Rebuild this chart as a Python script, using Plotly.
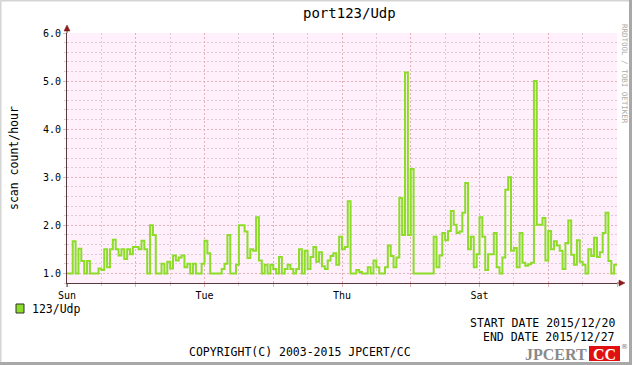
import plotly.graph_objects as go

# ---------------- data ----------------
title_text = "port123/Udp"
series_name = "123/Udp"
y_axis_title = "scan count/hour"
day_labels = ["Sun", "", "Tue", "", "Thu", "", "Sat", "", ""]
day_ticks_hours = [0, 24, 48, 72, 96, 120, 144, 168, 192]
y_tick_values = [1, 2, 3, 4, 5, 6]
y_tick_labels = ["1.0", "2.0", "3.0", "4.0", "5.0", "6.0"]

# hourly scan counts, 2015/12/20 00:00 .. 2015/12/27 23:00
counts_sun = [1.0, 1.0, 1.67, 1.0, 1.51, 1.26, 1.0, 1.26, 1.0, 1.0, 1.0, 1.1,
              1.07, 1.5, 1.13, 1.5, 1.7, 1.5, 1.37, 1.5, 1.3, 1.5, 1.4, 1.55]
counts_mon = [1.55, 1.5, 1.68, 1.5, 1.0, 2.0, 1.8, 1.0, 1.0, 1.2, 1.0, 1.24,
              1.1, 1.37, 1.27, 1.33, 1.37, 1.13, 1.2, 1.0, 1.2, 1.0, 1.0, 1.2]
counts_tue = [1.68, 1.42, 1.0, 1.0, 1.0, 1.0, 1.09, 1.2, 1.8, 1.0, 1.0, 1.18,
              2.0, 2.0, 1.87, 1.32, 1.5, 1.47, 2.17, 1.27, 1.0, 1.18, 1.0, 1.18]
counts_wed = [1.09, 1.0, 1.34, 1.0, 1.09, 1.18, 1.09, 1.0, 1.09, 1.5, 1.0, 1.47,
              1.09, 1.34, 1.55, 1.24, 1.44, 1.15, 1.09, 1.27, 1.36, 1.42, 1.18, 1.76]
counts_thu = [1.5, 1.55, 2.5, 1.0, 1.0, 1.07, 1.03, 1.0, 1.0, 1.13, 1.0, 1.27,
              1.13, 1.0, 1.0, 1.13, 1.58, 1.36, 1.13, 1.33, 2.57, 1.8, 5.18, 1.8]
counts_fri = [3.17, 1.0, 1.0, 1.0, 1.0, 1.0, 1.0, 1.0, 1.76, 1.13, 1.37, 1.84,
              1.69, 1.88, 2.3, 2.01, 1.84, 1.87, 2.26, 2.88, 1.5, 1.76, 1.13, 1.4]
counts_sat = [2.17, 1.76, 1.07, 1.4, 1.4, 1.84, 1.13, 1.0, 1.33, 2.74, 3.0, 1.47,
              1.53, 1.13, 1.84, 1.22, 1.16, 1.19, 1.22, 5.0, 2.01, 2.01, 2.15, 1.27]
counts_sun2 = [1.88, 1.5, 1.67, 1.58, 1.47, 1.09, 1.63, 2.1, 1.39, 1.18, 1.69, 1.24,
               1.18, 1.0, 1.5, 1.36, 1.74, 1.34, 1.44, 1.84, 2.26, 1.26, 1.0, 1.18]

counts = counts_sun + counts_mon + counts_tue + counts_wed + counts_thu + counts_fri + counts_sat + counts_sun2
hours = list(range(len(counts) + 1))
y_line = counts + [counts[-1]]

# ---------------- style ----------------
W, H = 632, 365
PL, PT, PW, PH = 67, 33, 550, 250
MONO = "DejaVu Sans Mono"
GREEN = "#8CDC28"
AXIS = "#5a3a3a"
ARROW = "#8B1A1A"
MAJ_GRID = "#E6B0B8"
MIN_GRID = "#DDCCD8"


def px(x):
    return (x - PL) / PW


def py(y):
    return (PT + PH - y) / PH


fig = go.Figure()
fig.add_trace(go.Scatter(x=hours, y=y_line, mode="lines", line=dict(color=GREEN, width=2, shape="hv"),
                         name=series_name, showlegend=False, hoverinfo="skip"))

fig.update_layout(
    width=W, height=H,
    margin=dict(l=PL, r=W - PL - PW, t=PT, b=H - PT - PH, pad=0),
    paper_bgcolor="white",
    plot_bgcolor="#FFF0FB",
    font=dict(family=MONO, size=10, color="black"),
    showlegend=False,
)

fig.update_xaxes(
    range=[0, 192], tickmode="array", tickvals=day_ticks_hours, ticktext=day_labels,
    showgrid=True, gridcolor=MAJ_GRID, griddash="2px,2px", gridwidth=1,
    showline=True, linecolor=AXIS, linewidth=1,
    ticks="outside", ticklen=3, tickcolor=MAJ_GRID,
    tickfont=dict(family=MONO, size=10),
    minor=dict(dtick=12, tick0=0, showgrid=True, gridcolor=MIN_GRID, griddash="2px,2px",
               ticks="outside", ticklen=2, tickcolor=MIN_GRID),
    zeroline=False, fixedrange=True,
)
fig.update_yaxes(
    range=[0.8, 6.0], tickmode="array", tickvals=y_tick_values, ticktext=y_tick_labels,
    showgrid=True, gridcolor=MAJ_GRID, griddash="2px,2px", gridwidth=1,
    showline=True, linecolor=AXIS, linewidth=1,
    ticks="outside", ticklen=3, tickcolor=MAJ_GRID,
    tickfont=dict(family=MONO, size=10),
    minor=dict(dtick=0.2, tick0=0.8, showgrid=True, gridcolor=MIN_GRID, griddash="2px,2px",
               ticks="outside", ticklen=2, tickcolor=MIN_GRID),
    zeroline=False, fixedrange=True,
)

shapes = []
# outer frame
shapes.append(dict(type="line", xref="paper", yref="paper", x0=px(0.5), x1=px(631), y0=py(0.5), y1=py(0.5),
                   line=dict(color="#D4D4D4", width=2)))
shapes.append(dict(type="line", xref="paper", yref="paper", x0=px(0.5), x1=px(0.5), y0=py(0.5), y1=py(364),
                   line=dict(color="#D4D4D4", width=2)))
shapes.append(dict(type="line", xref="paper", yref="paper", x0=px(630.5), x1=px(630.5), y0=py(0), y1=py(365),
                   line=dict(color="#A8A8A8", width=3)))
shapes.append(dict(type="line", xref="paper", yref="paper", x0=px(0), x1=px(632), y0=py(363.5), y1=py(363.5),
                   line=dict(color="#A8A8A8", width=3)))
# axis extensions and arrows
shapes.append(dict(type="line", xref="paper", yref="paper", x0=px(617), x1=px(620), y0=py(283), y1=py(283),
                   line=dict(color=AXIS, width=1)))
shapes.append(dict(type="line", xref="paper", yref="paper", x0=px(67), x1=px(67), y0=py(287), y1=py(283),
                   line=dict(color=AXIS, width=1)))
shapes.append(dict(type="line", xref="paper", yref="paper", x0=px(67), x1=px(67), y0=py(33), y1=py(29),
                   line=dict(color=AXIS, width=1)))
shapes.append(dict(type="path", xref="paper", yref="paper",
                   path=f"M {px(619)},{py(280)} L {px(625)},{py(283)} L {px(619)},{py(286)} Z",
                   fillcolor=ARROW, line=dict(color=ARROW, width=0.5)))
shapes.append(dict(type="path", xref="paper", yref="paper",
                   path=f"M {px(64)},{py(31)} L {px(67)},{py(25)} L {px(70)},{py(31)} Z",
                   fillcolor=ARROW, line=dict(color=ARROW, width=0.5)))
# legend swatch
shapes.append(dict(type="rect", xref="paper", yref="paper", x0=px(16), x1=px(24), y0=py(313), y1=py(304),
                   fillcolor=GREEN, line=dict(color="#303030", width=1)))
# JPCERT logo red box
shapes.append(dict(type="rect", xref="paper", yref="paper", x0=px(589), x1=px(620), y0=py(361), y1=py(346),
                   fillcolor="#E01010", line=dict(width=0)))
fig.update_layout(shapes=shapes)

ann = []
ann.append(dict(text=title_text, x=px(349), y=py(13), xref="paper", yref="paper", showarrow=False,
                xanchor="center", yanchor="middle", font=dict(family=MONO, size=14, color="black")))
ann.append(dict(text=y_axis_title, x=px(14), y=py(158), xref="paper", yref="paper", showarrow=False,
                textangle=-90, xanchor="center", yanchor="middle", font=dict(family=MONO, size=11.5, color="black")))
ann.append(dict(text=series_name, x=px(30), y=py(309), xref="paper", yref="paper", showarrow=False,
                xanchor="left", yanchor="middle", font=dict(family=MONO, size=11.5, color="black")))
ann.append(dict(text="START DATE 2015/12/20", x=px(617), y=py(323), xref="paper", yref="paper", showarrow=False,
                xanchor="right", yanchor="middle", font=dict(family=MONO, size=11.5, color="black")))
ann.append(dict(text="END DATE 2015/12/27", x=px(617), y=py(337), xref="paper", yref="paper", showarrow=False,
                xanchor="right", yanchor="middle", font=dict(family=MONO, size=11.5, color="black")))
ann.append(dict(text="COPYRIGHT(C) 2003-2015 JPCERT/CC", x=px(300), y=py(352), xref="paper", yref="paper",
                showarrow=False, xanchor="center", yanchor="middle", font=dict(family=MONO, size=11.5, color="black")))
ann.append(dict(text="RRDTOOL / TOBI OETIKER", x=px(625), y=py(74), xref="paper", yref="paper", showarrow=False,
                textangle=90, xanchor="center", yanchor="middle", font=dict(family=MONO, size=7.5, color="#AAAAAA")))
ann.append(dict(text="<b>JPCERT</b>", x=px(589), y=py(354), xref="paper", yref="paper", showarrow=False,
                xanchor="right", yanchor="middle", font=dict(family="Liberation Serif", size=16, color="#8A8A8A")))
ann.append(dict(text="<b>CC</b>", x=px(604.5), y=py(354), xref="paper", yref="paper", showarrow=False,
                xanchor="center", yanchor="middle", font=dict(family="Liberation Serif", size=16, color="white")))
ann.append(dict(text="®", x=px(624), y=py(347), xref="paper", yref="paper", showarrow=False,
                xanchor="center", yanchor="middle", font=dict(family="DejaVu Sans", size=7, color="#777777")))
fig.update_layout(annotations=ann)

fig.write_html("out.html", config={"displayModeBar": False},
               post_script="document.body.style.margin='0';document.body.style.padding='0';")
